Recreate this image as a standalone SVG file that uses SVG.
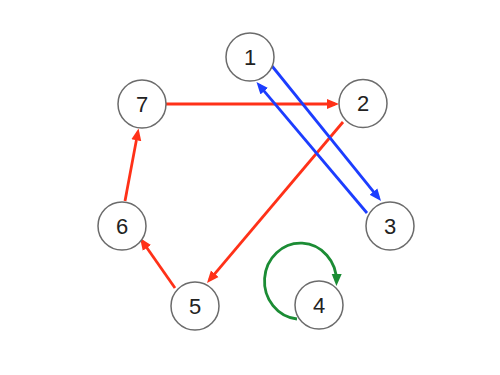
<svg xmlns="http://www.w3.org/2000/svg" width="500" height="375" viewBox="0 0 500 375">
<style>
.node circle{fill:#fff;stroke:#6b6b6b;stroke-width:1.5}
.node text{font-family:"Liberation Sans",Arial,sans-serif;font-size:22px;fill:#222;text-anchor:middle;dominant-baseline:central}
.e{fill:none;stroke-width:2.8}
.r{stroke:#ff3118}
.b{stroke:#1c3dff}
.g{stroke:#1b8c34}
</style>
<defs>
<marker id="ar" markerUnits="userSpaceOnUse" markerWidth="12" markerHeight="11" refX="8" refY="5.5" orient="auto"><path d="M0,0.5 L12,5.5 L0,10.5 z" fill="#ff3118"/></marker>
<marker id="ab" markerUnits="userSpaceOnUse" markerWidth="12" markerHeight="11" refX="8" refY="5.5" orient="auto"><path d="M0,0.5 L12,5.5 L0,10.5 z" fill="#1c3dff"/></marker>
<marker id="ag" markerUnits="userSpaceOnUse" markerWidth="12" markerHeight="11" refX="8" refY="5.5" orient="auto"><path d="M0,0.5 L12,5.5 L0,10.5 z" fill="#1b8c34"/></marker>
</defs>
<rect width="500" height="375" fill="#fff"/>
<g id="edges">
<line class="e r" x1="166" y1="104" x2="335" y2="104" marker-end="url(#ar)"/>
<line class="e r" x1="343" y1="122" x2="209.6" y2="279.9" marker-end="url(#ar)"/>
<line class="e r" x1="175" y1="288" x2="142.3" y2="241.3" marker-end="url(#ar)"/>
<line class="e r" x1="125" y1="201" x2="137.8" y2="132.4" marker-end="url(#ar)"/>
<line class="e b" x1="272" y1="66" x2="378.5" y2="197.9" marker-end="url(#ab)"/>
<line class="e b" x1="367" y1="213" x2="259.1" y2="85.1" marker-end="url(#ab)"/>
<path class="e g" d="M297,319 A36,38 0 1 1 336.5,282" marker-end="url(#ag)"/>
</g>
<g id="n1" class="node"><circle cx="250" cy="57" r="24"/><text x="250" y="57">1</text></g>
<g id="n2" class="node"><circle cx="363" cy="103.5" r="24"/><text x="363" y="103.5">2</text></g>
<g id="n3" class="node"><circle cx="390" cy="226" r="24"/><text x="390" y="226">3</text></g>
<g id="n4" class="node"><circle cx="319" cy="305" r="24"/><text x="319" y="305">4</text></g>
<g id="n5" class="node"><circle cx="195" cy="306" r="24"/><text x="195" y="306">5</text></g>
<g id="n6" class="node"><circle cx="122" cy="226" r="24"/><text x="122" y="226">6</text></g>
<g id="n7" class="node"><circle cx="142" cy="104" r="24"/><text x="142" y="104">7</text></g>
</svg>
